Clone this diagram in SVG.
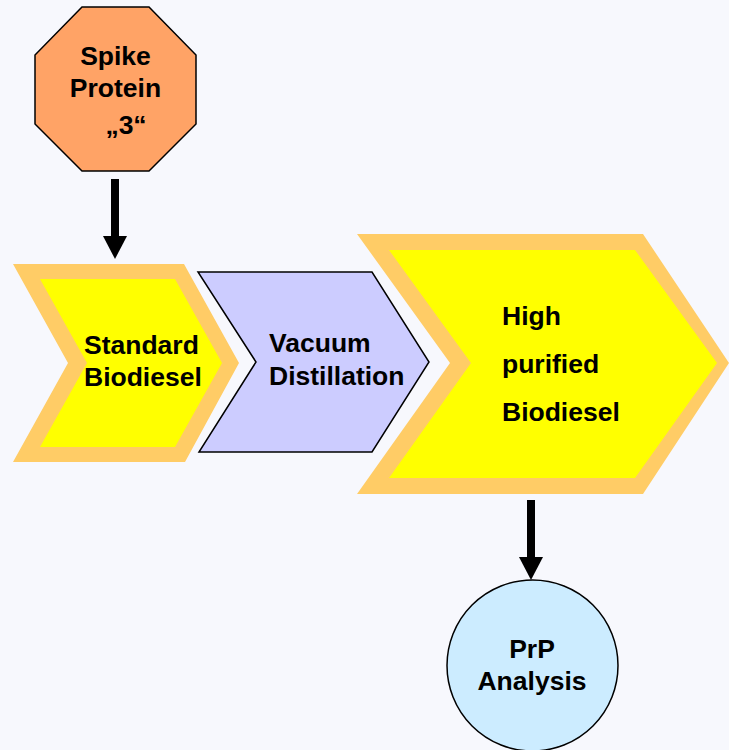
<svg xmlns="http://www.w3.org/2000/svg" width="729" height="750" viewBox="0 0 729 750">
<style>
text{font-family:"Liberation Sans",Arial,sans-serif;font-weight:bold;font-size:26.5px;fill:#000}
.band{fill:#FFCC66}
.fillY{fill:#FFFF00}
.line{stroke:#000;stroke-width:1.5}
</style>
<rect width="729" height="750" fill="#F7F8FD"/>
<g id="spike">
<polygon class="line" fill="#FFA366" points="82,7 149,7 196,55 196,124 149,171 82,171 35,124 35,55"/>
<text x="115.5" y="65" text-anchor="middle">Spike</text>
<text x="115.5" y="97" text-anchor="middle">Protein</text>
<text x="126" y="134" text-anchor="middle">„3“</text>
</g>
<g id="standard">
<polygon class="band" points="13,264 184,264 239,363 185,462 13,462 68,363"/>
<polygon class="fillY" points="40,279 175,279 222,363 175,447 40,447 87,363"/>
<text x="84" y="354">Standard</text>
<text x="84" y="386">Biodiesel</text>
</g>
<g id="vacuum">
<polygon class="line" fill="#CCCCFF" points="198,272 372,272 429,362 372,452 199,452 256,362"/>
<text x="269" y="352">Vacuum</text>
<text x="269" y="385">Distillation</text>
</g>
<g id="highpurified">
<polygon class="band" points="357,234 643,234 729,363 643,494 357,494 450,363"/>
<polygon class="fillY" points="389,250 635,250 717,363 635,478 389,478 471,363"/>
<text x="502" y="325">High</text>
<text x="502" y="373">purified</text>
<text x="502" y="421">Biodiesel</text>
</g>
<g id="prp">
<circle class="line" fill="#CCECFF" cx="532.5" cy="665.5" r="85.5"/>
<text x="532" y="658" text-anchor="middle">PrP</text>
<text x="532" y="690" text-anchor="middle">Analysis</text>
</g>
<g id="connectors" fill="#000">
<rect x="111" y="179" width="8" height="58"/>
<polygon points="103,236 127,236 115,259"/>
<rect x="527" y="500" width="8" height="58"/>
<polygon points="519,557 543,557 531,580"/>
</g>
</svg>
